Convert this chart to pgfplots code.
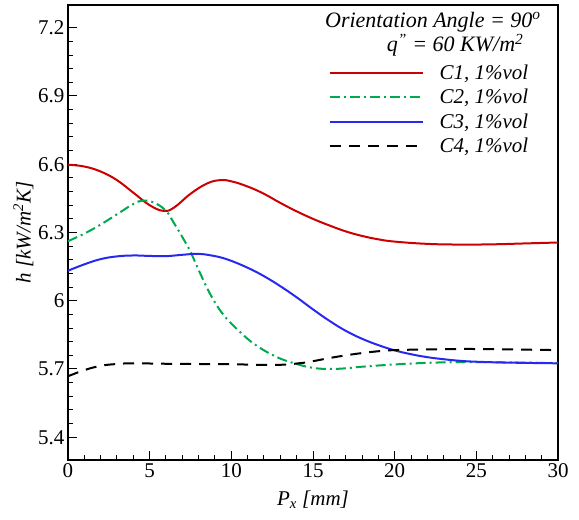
\documentclass[border=0pt]{standalone}
\usepackage{pgfplots}
\pgfplotsset{compat=1.18}
\usepackage{fontspec}
\setmainfont{Liberation Serif}
\definecolor{cred}{RGB}{204,0,0}
\definecolor{cgreen}{RGB}{0,170,80}
\definecolor{cblue}{RGB}{40,40,240}
\begin{document}
\begin{tikzpicture}
\begin{axis}[
  name=ax,
  scale only axis,
  width=490pt, height=455pt,
  xmin=0, xmax=30, ymin=5.3, ymax=7.3,
  xtick={0,5,...,30},
  ytick={5.4,5.7,6,6.3,6.6,6.9,7.2},
  yticklabels={5.4,5.7,6,6.3,6.6,6.9,7.2},
  minor x tick num=4,
  minor y tick num=4,
  tick pos=left,
  tick align=inside,
  major tick length=9pt,
  minor tick length=5pt,
  every tick/.style={black, line width=1pt},
  axis line style={line width=1.5pt},
  /pgf/number format/assume math mode=true,
  ticklabel style={font=\fontsize{21}{24}\selectfont},
  xlabel={\itshape P\textsubscript{x} [mm]},
  ylabel={\itshape h [kW/m\textsuperscript{2}K]},
  label style={font=\fontsize{21}{24}\selectfont},
  xlabel style={yshift=-6pt},
  ylabel style={yshift=-2pt},
  legend style={at={(0.95,0.878)}, anchor=north east, draw=none, fill=none,
    font=\fontsize{21}{24}\selectfont\itshape, row sep=4.5pt,
    /tikz/every odd column/.append style={column sep=14pt}},
  legend cell align=left,
  legend image code/.code={\draw[#1] (0pt,0pt) -- (93pt,0pt);},
  clip=true,
]
% C1
\addplot[cred, line width=2pt, smooth, tension=0.7] coordinates {
(0,6.598) (1,6.59) (2,6.568) (3,6.53) (4,6.475) (5,6.42) (5.85,6.395) (6.5,6.41)
(7.5,6.47) (8.5,6.515) (9.3,6.53) (10,6.525) (11,6.502) (12,6.47) (13,6.43)
(14,6.393) (15,6.36) (16,6.331) (17,6.305) (18,6.285) (19,6.27) (20,6.26)
(22,6.25) (24,6.247) (26,6.248) (28,6.252) (30,6.256)
};
\addlegendentry{C1, 1\%vol}
% C2
\addplot[cgreen, line width=2pt, smooth, tension=0.7,
  dash pattern=on 10pt off 4pt on 2pt off 4pt] coordinates {
(0,6.262) (1,6.295) (2,6.335) (3,6.38) (4,6.425) (4.6,6.44) (5.3,6.43) (6,6.395)
(6.5,6.34) (7,6.28) (7.5,6.215) (8,6.135) (8.7,6.03) (9.5,5.94) (10.5,5.865)
(11.5,5.805) (12.8,5.752) (14,5.722) (15,5.705) (16,5.7) (17,5.703) (18,5.71)
(20,5.72) (22,5.727) (24,5.73) (27,5.729) (30,5.726)
};
\addlegendentry{C2, 1\%vol}
% C3
\addplot[cblue, line width=2pt, smooth, tension=0.7] coordinates {
(0,6.132) (1,6.16) (2,6.183) (3,6.195) (4,6.199) (5,6.197) (6,6.196) (7,6.202)
(7.9,6.206) (8.7,6.2) (9.7,6.183) (11,6.145) (12,6.108) (13,6.064) (14,6.015)
(15,5.962) (16,5.912) (17,5.868) (18,5.833) (19,5.805) (20,5.782) (21,5.765)
(22,5.752) (23,5.743) (24,5.736) (25,5.732) (27,5.728) (30,5.725)
};
\addlegendentry{C3, 1\%vol}
% C4
\addplot[black, line width=2pt, smooth, tension=0.7,
  dash pattern=on 11pt off 8pt] coordinates {
(0,5.668) (1,5.695) (2,5.714) (3,5.722) (4,5.725) (6,5.723) (8,5.722) (10,5.721)
(12,5.718) (13.5,5.72) (14.5,5.728) (16,5.748) (17,5.76) (18,5.77) (19,5.778)
(20,5.783) (22,5.786) (24,5.788) (26,5.787) (28,5.785) (30,5.783)
};
\addlegendentry{C4, 1\%vol}
\node[anchor=north east, font=\fontsize{22}{25}\selectfont\itshape, inner sep=0pt]
  at (axis description cs:0.965,0.985) {Orientation Angle = 90\textsuperscript{o}};
\node[anchor=center, font=\fontsize{22}{25}\selectfont\itshape, inner sep=0pt]
  at (axis description cs:0.79,0.912) {q\textsuperscript{"} = 60 KW/m\textsuperscript{2}};
\end{axis}
\pgfresetboundingbox
\path ([xshift=-68pt,yshift=-60pt]ax.south west) rectangle ([xshift=21pt,yshift=5pt]ax.north east);
\end{tikzpicture}
\end{document}
